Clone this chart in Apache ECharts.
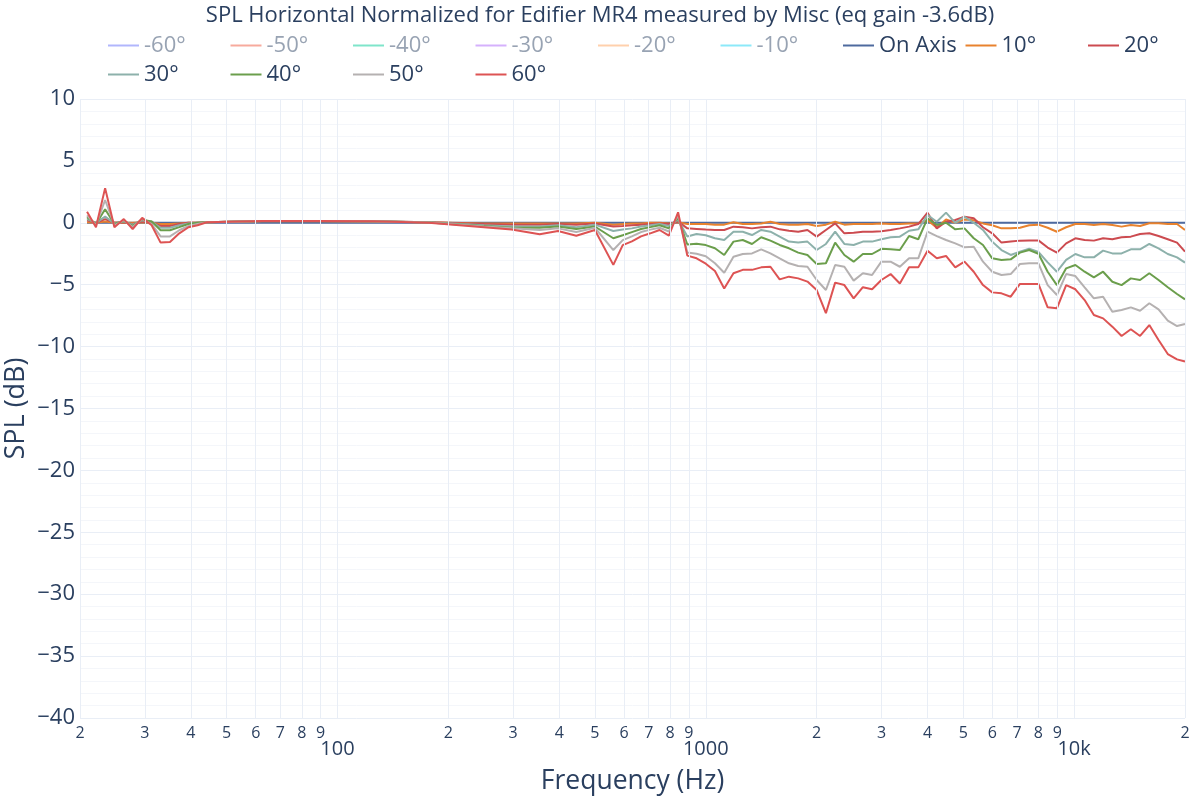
<!DOCTYPE html>
<html>
<head>
<meta charset="utf-8">
<script src="https://cdn.jsdelivr.net/npm/echarts@6/dist/echarts.min.js"></script>
<style>
html, body { margin: 0; padding: 0; background: #fff; }
#chart { width: 1200px; height: 800px; }
</style>
</head>
<body>
<div id="chart"></div>
<script>
// frequencies (Hz), 1/12 octave where the curves move
var freqs = [20.9, 22.1, 23.4, 24.8, 26.3, 27.8, 29.5, 31.3, 33.1, 35.1, 37.2, 39.4, 41.7, 44.2,
    62.5, 88.4, 125, 177, 250, 297,
    354, 397, 445, 500,
    561, 595, 630, 667, 707, 749, 794, 841, 891, 944,
    1000, 1059, 1122, 1189, 1260, 1335, 1414, 1498, 1587, 1682, 1782, 1888,
    2000, 2119, 2245, 2378, 2520, 2670, 2828, 2997, 3175, 3364, 3564, 3775,
    4000, 4238, 4490, 4757, 5040, 5339, 5657, 5993, 6350, 6727, 7127, 7551,
    8000, 8476, 8980, 9514, 10079, 10679, 11314, 11986, 12699, 13454, 14254, 15102,
    16000, 16951, 17959, 19027, 20000];

var onAxis = [0, 0, 0, 0, 0, 0, 0, 0, 0, 0, 0, 0, 0, 0,
    0, 0, 0, 0, 0, 0,
    0, 0, 0, 0,
    0, 0, 0, 0, 0, 0, 0, 0, 0, 0,
    0, 0, 0, 0, 0, 0, 0, 0, 0, 0, 0, 0,
    0, 0, 0, 0, 0, 0, 0, 0, 0, 0, 0, 0,
    0, 0, 0, 0, 0, 0, 0, 0, 0, 0, 0, 0,
    0, 0, 0, 0, 0, 0, 0, 0, 0, 0, 0, 0,
    0, 0, 0, 0, 0];

var deg10 = [0.05, 0, 0.1, 0, 0, 0, 0.05, 0, -0.1, -0.1, -0.05, 0, 0, 0.05,
    0.12, 0.12, 0.1, 0.05, -0.05, -0.05,
    -0.05, -0.05, -0.05, 0,
    -0.15, -0.1, -0.05, -0.05, 0, 0, -0.05, 0.05, -0.1, -0.1,
    -0.1, -0.15, -0.15, 0.05, -0.1, -0.1, -0.05, 0.08, -0.1, -0.15, -0.15, -0.1,
    -0.25, -0.15, 0.08, -0.15, -0.1, -0.1, -0.1, -0.05, -0.1, -0.1, -0.05, -0.05,
    0.2, -0.4, 0.27, 0, 0.27, 0.2, -0.05, -0.2, -0.45, -0.45, -0.4, -0.2,
    -0.15, -0.4, -0.72, -0.36, -0.1, -0.1, -0.18, -0.1, -0.18, -0.31, -0.18, -0.26,
    -0.04, -0.04, -0.1, -0.1, -0.58];

var deg20 = [0.2, 0, 0.3, 0, 0.05, -0.1, 0.1, 0.05, -0.25, -0.25, -0.1, 0, 0, 0.05,
    0.15, 0.15, 0.12, 0.05, -0.1, -0.15,
    -0.15, -0.1, -0.15, -0.05,
    -0.3, -0.25, -0.2, -0.15, -0.1, -0.05, -0.1, 0.1, -0.45, -0.5,
    -0.55, -0.58, -0.58, -0.31, -0.36, -0.45, -0.36, -0.31, -0.53, -0.64, -0.72, -0.58,
    -1.12, -0.58, -0.05, -0.85, -0.8, -0.72, -0.72, -0.68, -0.58, -0.45, -0.31, -0.1,
    0.82, -0.45, 0.09, 0.23, 0.49, 0.36, -0.36, -0.85, -1.6, -1.52, -1.44, -1.42,
    -1.42, -2.0, -2.41, -1.66, -1.25, -1.39, -1.44, -1.25, -1.33, -1.17, -1.12, -0.9,
    -0.85, -1.07, -1.33, -1.6, -2.33];

var deg30 = [0.3, 0, 0.5, -0.05, 0.1, -0.15, 0.2, 0.1, -0.4, -0.4, -0.2, -0.05, 0, 0.05,
    0.15, 0.15, 0.12, 0.04, -0.2, -0.3,
    -0.3, -0.2, -0.35, -0.15,
    -0.66, -0.55, -0.45, -0.3, -0.2, -0.1, -0.25, 0.25, -1.1, -0.9,
    -1.0, -1.25, -1.39, -0.72, -0.72, -0.99, -0.58, -0.72, -1.12, -1.52, -1.6, -1.52,
    -2.2, -1.71, -0.72, -1.71, -1.79, -1.52, -1.52, -1.33, -1.17, -1.12, -0.64, -0.53,
    0.63, 0.09, 0.82, 0, 0.49, 0, -0.58, -1.52, -2.2, -2.6, -2.33, -2.1,
    -2.35, -3.2, -3.95, -3.0, -2.52, -2.79, -2.79, -2.25, -2.47, -2.47, -2.14, -2.14,
    -1.71, -2.06, -2.52, -2.79, -3.22];

var deg40 = [0.45, -0.1, 1.1, -0.1, 0.15, -0.25, 0.25, 0.1, -0.6, -0.6, -0.35, -0.1, 0, 0.05,
    0.15, 0.15, 0.12, 0.03, -0.25, -0.4,
    -0.4, -0.3, -0.5, -0.3,
    -1.25, -1.0, -0.75, -0.5, -0.35, -0.2, -0.45, 0.4, -1.75, -1.7,
    -1.8, -2.06, -2.6, -1.52, -1.39, -1.71, -1.17, -1.44, -1.79, -2.06, -2.41, -2.6,
    -3.33, -3.27, -1.6, -2.6, -3.14, -2.52, -2.52, -2.1, -2.14, -2.2, -1.07, -1.33,
    0.36, -0.18, 0, -0.53, -0.45, -1.25, -1.79, -2.87, -3.0, -2.95, -2.41, -2.2,
    -2.5, -3.95, -5.03, -3.68, -3.41, -3.95, -4.4, -3.95, -4.76, -5.03, -4.49, -4.62,
    -4.08, -4.62, -5.21, -5.75, -6.18];

var deg50 = [0.6, -0.2, 1.84, -0.2, 0.2, -0.35, 0.3, -0.1, -1.1, -1.1, -0.6, -0.25, -0.1, 0.05,
    0.15, 0.15, 0.12, 0.02, -0.3, -0.45,
    -0.58, -0.45, -0.75, -0.4,
    -2.2, -1.4, -1.1, -0.75, -0.55, -0.4, -0.7, 0.6, -2.4, -2.5,
    -2.7, -3.27, -4.03, -2.74, -2.52, -2.47, -2.14, -2.47, -2.87, -3.27, -3.49, -3.55,
    -4.62, -5.43, -3.41, -3.55, -4.67, -4.08, -4.22, -3.14, -3.14, -3.55, -2.87, -2.87,
    -0.72, -1.07, -1.39, -1.66, -1.98, -1.93, -3.14, -3.95, -4.22, -4.14, -3.33, -3.27,
    -3.27, -5.03, -5.83, -4.14, -4.3, -5.21, -6.1, -5.97, -7.18, -7.04, -6.83, -7.1,
    -6.5, -6.99, -7.91, -8.34, -8.17];

var deg60 = [0.9, -0.36, 2.8, -0.36, 0.3, -0.5, 0.4, -0.2, -1.6, -1.55, -0.85, -0.36, -0.2, 0.05,
    0.15, 0.15, 0.12, 0.0, -0.35, -0.55,
    -0.93, -0.66, -1.04, -0.58,
    -3.4, -1.8, -1.5, -1.1, -0.85, -0.58, -1.04, 0.85, -2.65, -2.87,
    -3.3, -3.9, -5.3, -4.08, -3.8, -3.8, -3.6, -3.55, -4.57, -4.35, -4.49, -4.75,
    -5.43, -7.3, -4.83, -5.03, -6.1, -5.2, -5.37, -4.62, -4.14, -4.9, -3.6, -3.6,
    -2.25, -2.87, -2.68, -3.6, -3.14, -3.95, -5.03, -5.62, -5.7, -5.97, -4.94, -4.94,
    -4.94, -6.83, -6.91, -5.03, -5.37, -6.24, -7.45, -7.72, -8.39, -9.14, -8.6, -9.14,
    -8.26, -9.47, -10.6, -11.03, -11.2];

// names of the traces that are switched off in the legend
var hiddenNames = ['-60°', '-50°', '-40°', '-30°', '-20°', '-10°'];
var hiddenColors = ['#b1b6fc', '#f7aa9d', '#7fe5ca', '#d5b1fc', '#ffd0ac', '#8ce9f9'];

var shownNames = ['On Axis', '10°', '20°', '30°', '40°', '50°', '60°'];
var shownColors = ['#4e6a9e', '#e8822e', '#cc4b50', '#8db1ab', '#6b9e4c', '#b5b1b1', '#dd5353'];
var shownValues = [onAxis, deg10, deg20, deg30, deg40, deg50, deg60];

// x tick marks between decades, labelled by their first digit
var minorTicks = [20, 30, 40, 50, 60, 70, 80, 90, 200, 300, 400, 500, 600, 700, 800, 900,
    2000, 3000, 4000, 5000, 6000, 7000, 8000, 9000, 20000];
var decadeLabels = { 100: '100', 1000: '1000', 10000: '10k' };

var TEXT = '#2a3f5f';
var GRID = '#e9eef6';
var FONT = 'Open Sans';

var chart = echarts.init(document.getElementById('chart'));

var series = [];
series.push({
    name: 'grid',
    type: 'line',
    data: [],
    z: 1,
    silent: true,
    markLine: {
        silent: true,
        animation: false,
        symbol: ['none', 'none'],
        lineStyle: { color: GRID, width: 1, type: 'solid' },
        label: {
            show: true,
            position: 'start',
            distance: 7,
            fontSize: 16,
            fontFamily: FONT,
            color: TEXT,
            formatter: function (p) {
                return String(p.value).charAt(0);
            }
        },
        emphasis: { disabled: true },
        data: minorTicks.map(function (v) { return { xAxis: v }; })
    }
});
for (var i = 0; i < hiddenNames.length; i++) {
    series.push({
        name: hiddenNames[i],
        type: 'line',
        color: hiddenColors[i],
        data: []
    });
}
for (var j = 0; j < shownNames.length; j++) {
    var vals = shownValues[j];
    series.push({
        name: shownNames[j],
        type: 'line',
        color: shownColors[j],
        z: 2,
        symbol: 'none',
        showSymbol: false,
        lineStyle: { width: 2 },
        emphasis: { disabled: true },
        data: freqs.map(function (f, k) { return [f, vals[k]]; })
    });
}

var legendData = hiddenNames.map(function (n) {
    return { name: n, textStyle: { color: '#98a3b3' } };
}).concat(shownNames.map(function (n) {
    return { name: n };
}));

var option = {
    animation: false,
    backgroundColor: '#ffffff',
    textStyle: { fontFamily: FONT },
    title: {
        text: 'SPL Horizontal Normalized for Edifier MR4 measured by Misc (eq gain -3.6dB)',
        left: 'center',
        top: 0,
        textStyle: { fontSize: 22, fontWeight: 'normal', color: TEXT, fontFamily: FONT }
    },
    legend: {
        data: legendData,
        left: 108,
        top: 31,
        width: 1120,
        padding: 0,
        itemGap: 0,
        itemWidth: 31,
        itemHeight: 2,
        icon: 'rect',
        textStyle: { fontSize: 22, color: TEXT, fontFamily: FONT, width: 86.5, lineHeight: 29 }
    },
    grid: { left: 80, right: 15, top: 99, bottom: 82, outerBoundsMode: 'none' },
    xAxis: {
        type: 'log',
        logBase: 10,
        min: 20,
        max: 20000,
        name: 'Frequency (Hz)',
        nameLocation: 'middle',
        nameGap: 50,
        nameMoveOverlap: false,
        nameTextStyle: { fontSize: 26.5, color: TEXT, fontFamily: FONT },
        axisLine: { show: false },
        axisTick: { show: false },
        axisLabel: {
            margin: 21,
            fontSize: 20,
            color: TEXT,
            fontFamily: FONT,
            formatter: function (v) {
                return decadeLabels[Math.round(v)] || '';
            }
        },
        splitLine: { show: true, lineStyle: { color: GRID, width: 1 } }
    },
    yAxis: {
        type: 'value',
        min: -40,
        max: 10,
        interval: 5,
        name: 'SPL (dB)',
        nameLocation: 'middle',
        nameGap: 50,
        nameMoveOverlap: false,
        nameTextStyle: { fontSize: 27, color: TEXT, fontFamily: FONT },
        axisLine: { show: false },
        axisTick: { show: false },
        axisLabel: {
            margin: 5,
            fontSize: 22,
            color: TEXT,
            fontFamily: FONT,
            formatter: function (v) {
                return String(v).replace('-', '\u2212');
            }
        },
        splitLine: { show: true, lineStyle: { color: GRID, width: 1 } },
        minorTick: { show: false, splitNumber: 5 },
        minorSplitLine: { show: true, lineStyle: { color: '#f4f6fa', width: 1 } }
    },
    series: series
};

chart.setOption(option);
</script>
</body>
</html>
